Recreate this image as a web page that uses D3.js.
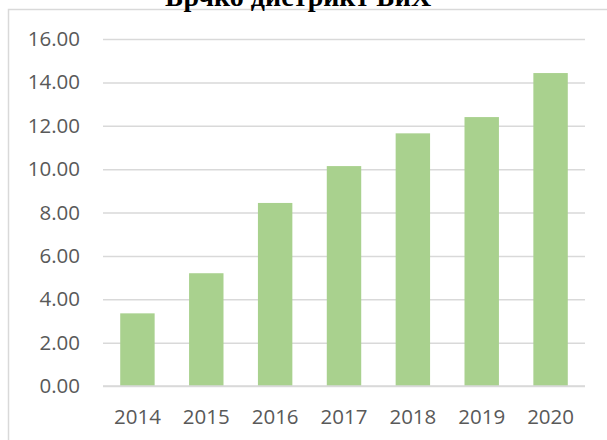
<!DOCTYPE html>
<html lang="sr">
<head>
<meta charset="utf-8">
<title>Брчко дистрикт БиХ</title>
<script src="https://d3js.org/d3.v7.min.js"></script>
<style>
  body { margin: 0; background: #fff; }
  svg { display: block; }
</style>
</head>
<body>
<div id="chart"></div>
<script>
// data
const years = ["2014", "2015", "2016", "2017", "2018", "2019", "2020"];
const values = [3.35, 5.2, 8.44, 10.14, 11.65, 12.4, 14.43];
const yTicks = [0, 2, 4, 6, 8, 10, 12, 14, 16];
const title = "Брчко дистрикт БиХ";

const width = 607;
const height = 440;
const plotLeft = 103, plotRight = 585, plotTop = 39, plotBottom = 386;

const svg = d3.select("#chart")
  .append("svg")
  .attr("width", width)
  .attr("height", height);

// outer chart border (runs off the right and bottom of the picture)
svg.append("rect")
  .attr("x", 8.5)
  .attr("y", 9.5)
  .attr("width", 700)
  .attr("height", 500)
  .attr("fill", "none")
  .attr("stroke", "#d9d9d9")
  .attr("stroke-width", 1.5);

// title, clipped by the top of the picture
svg.append("text")
  .attr("x", 298)
  .attr("y", 6)
  .attr("text-anchor", "middle")
  .attr("font-family", "'Liberation Serif', 'Times New Roman', serif")
  .attr("font-weight", "bold")
  .attr("font-size", 28)
  .attr("fill", "#000")
  .text(title);

const x = d3.scaleBand()
  .domain(years)
  .range([plotLeft, plotRight])
  .paddingInner(0.5)
  .paddingOuter(0.25);

const y = d3.scaleLinear()
  .domain([0, 16])
  .range([plotBottom, plotTop]);

// gridlines
svg.append("g")
  .attr("class", "grid")
  .attr("transform", `translate(${plotLeft},0)`)
  .call(d3.axisLeft(y).tickValues(yTicks).tickSize(-(plotRight - plotLeft)).tickFormat(""))
  .call(g => g.select(".domain").remove())
  .call(g => g.selectAll("line").attr("stroke", "#d9d9d9").attr("stroke-width", 1.5));

// y labels
svg.append("g")
  .attr("class", "axis y")
  .attr("transform", `translate(80,0)`)
  .call(d3.axisLeft(y).tickValues(yTicks).tickSize(0).tickPadding(0).tickFormat(d3.format(".2f")))
  .call(g => g.select(".domain").remove())
  .call(g => g.selectAll("text")
    .attr("fill", "#595959")
    .attr("font-family", "'Open Sans', sans-serif")
    .attr("font-size", 20.5)
    .attr("text-anchor", "end"));

// bars
svg.append("g")
  .attr("class", "bars")
  .selectAll("rect")
  .data(years)
  .enter()
  .append("rect")
  .attr("x", d => x(d))
  .attr("y", (d, i) => y(values[i]))
  .attr("width", x.bandwidth())
  .attr("height", (d, i) => y(0) - y(values[i]))
  .attr("fill", "#a9d18e");

// baseline
svg.append("line")
  .attr("x1", plotLeft).attr("x2", plotRight)
  .attr("y1", y(0)).attr("y2", y(0))
  .attr("stroke", "#d9d9d9")
  .attr("stroke-width", 1.5);

// x labels
svg.append("g")
  .attr("class", "axis x")
  .attr("transform", `translate(0,${plotBottom})`)
  .call(d3.axisBottom(x).tickSize(0).tickPadding(0))
  .call(g => g.select(".domain").remove())
  .call(g => g.selectAll("text")
    .attr("y", 31)
    .attr("dy", "0.35em")
    .attr("fill", "#595959")
    .attr("font-family", "'Open Sans', sans-serif")
    .attr("font-size", 20.5));
</script>
</body>
</html>
